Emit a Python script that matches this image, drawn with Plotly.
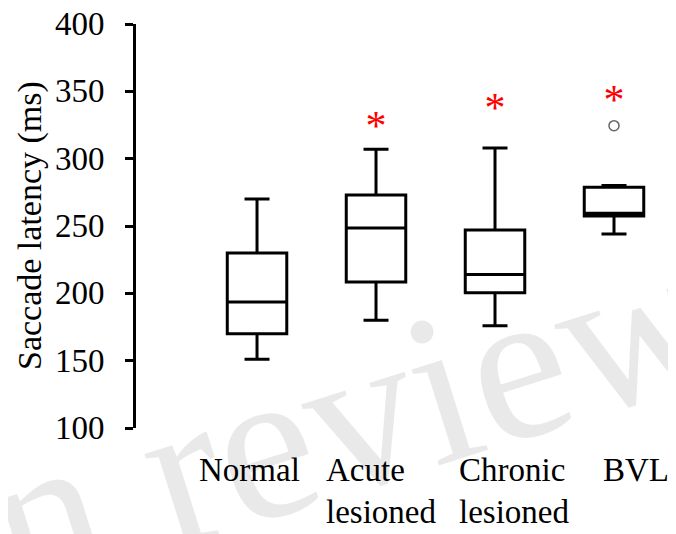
import plotly.graph_objects as go

# ---- data ----
groups = ["Normal", "Acute\nlesioned", "Chronic\nlesioned", "BVL"]
lower_whisker = [151, 180, 176, 244]
q1 = [170, 208.5, 200.5, 257.5]
median = [193.5, 248.5, 214, 259.5]
q3 = [230, 273, 247, 278.8]
upper_whisker = [270, 307, 308, 280]
outlier_group = [3]
outlier_value = [324.5]
significance = ["", "*", "*", "*"]
significance_y = [None, 321.5, 335, 341]
y_ticks = [100, 150, 200, 250, 300, 350, 400]
y_title = "Saccade latency (ms)"

FONT = "Liberation Serif"
xs = list(range(len(groups)))

# The page body has an 8px default margin, so the figure is sized to the
# remaining 668x526 area of the 676x534 window.
W, H, PAGE_MARGIN = 676, 534, 8

fig = go.Figure()

# watermark (very light)
fig.add_annotation(
    x=0.337, y=0.0025, xref="paper", yref="paper", showarrow=False,
    xanchor="center", yanchor="middle",
    text="In review", textangle=-17.5,
    font=dict(family=FONT, size=217, color="rgba(0,0,0,0.085)"),
)

fig.add_trace(go.Box(
    x=xs, q1=q1, median=median, q3=q3,
    lowerfence=lower_whisker, upperfence=upper_whisker,
    width=0.5, whiskerwidth=0.42,
    line=dict(color="black", width=3),
    fillcolor="rgba(255,255,255,0)",
    boxpoints=False, showlegend=False, hoverinfo="skip",
))
fig.add_trace(go.Scatter(
    x=outlier_group, y=outlier_value, mode="markers",
    marker=dict(symbol="circle-open", size=10, color="#666666", line=dict(width=1.5)),
    showlegend=False, hoverinfo="skip",
))
sx = [x for x, s in zip(xs, significance) if s]
sy = [y for y, s in zip(significance_y, significance) if s]
st = [s for s in significance if s]
fig.add_trace(go.Scatter(
    x=sx, y=sy, text=st, mode="text", textposition="middle center",
    textfont=dict(family=FONT, size=42, color="red"),
    showlegend=False, hoverinfo="skip",
))

# category labels (left-aligned text blocks under each box)
label_shift = [-60, -52, -38, -13]
for x, g, dx in zip(xs, groups, label_shift):
    for i, line in enumerate(g.split("\n")):
        fig.add_annotation(
            x=x, xref="x", y=0, yref="paper", xanchor="left", yanchor="top",
            xshift=dx, yshift=-22 - 42 * i, align="left", showarrow=False,
            text=line, font=dict(family=FONT, size=33, color="black"),
        )

# y tick labels, placed at the y-axis tick values
for v in y_ticks:
    fig.add_annotation(
        x=0, xref="paper", y=v, yref="y", xanchor="right", yanchor="middle",
        xshift=-29, showarrow=False, text=str(v),
        font=dict(family=FONT, size=33, color="black"),
    )

# y axis title
fig.add_annotation(
    x=0, xref="paper", y=0.5, yref="paper", xanchor="center", yanchor="middle",
    xshift=-106, showarrow=False, text=y_title, textangle=-90,
    font=dict(family=FONT, size=34, color="black"),
)

fig.update_layout(
    width=W - PAGE_MARGIN, height=H - PAGE_MARGIN,
    margin=dict(l=136 - PAGE_MARGIN, r=0, t=24 - PAGE_MARGIN, b=106, pad=0),
    paper_bgcolor="white", plot_bgcolor="white",
    font=dict(family=FONT, color="black"),
    xaxis=dict(range=[-1.017, 3.521], visible=False, showgrid=False,
               zeroline=False, automargin=False),
    yaxis=dict(
        range=[100, 400], tickvals=y_ticks, showticklabels=False,
        showline=True, linecolor="black", linewidth=3,
        ticks="outside", ticklen=8, tickwidth=3, tickcolor="black",
        showgrid=False, zeroline=False, automargin=False,
    ),
)

fig.write_html("out.html")
